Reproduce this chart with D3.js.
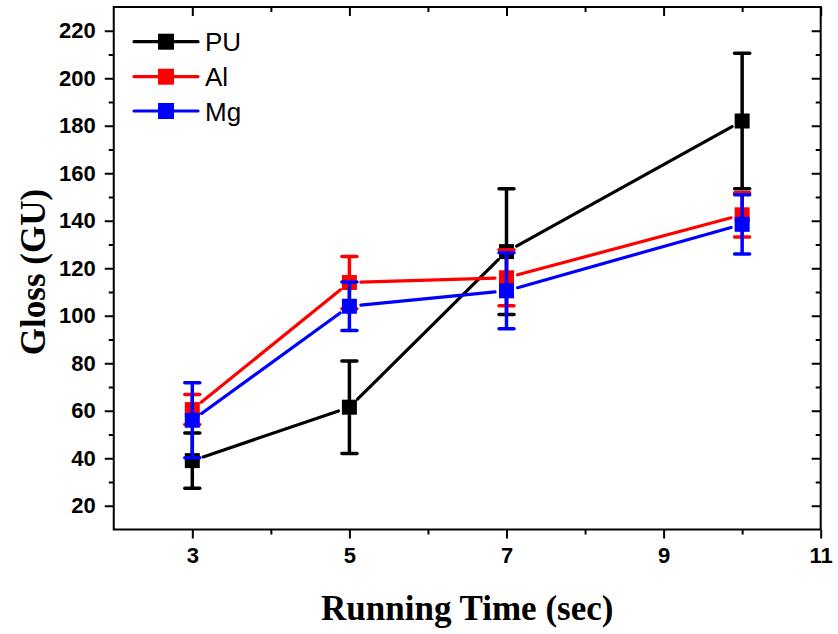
<!DOCTYPE html>
<html>
<head>
<meta charset="utf-8">
<script src="https://cdn.jsdelivr.net/npm/d3@7"></script>
<style>
  html, body { margin: 0; padding: 0; background: #fff; }
  svg { display: block; }
</style>
</head>
<body>
<svg id="chart" width="838" height="634"></svg>
<script>
// Running time (s) at which gloss was measured
const runningTime = [3, 5, 7, 10];

// Mean gloss (GU) and standard deviation per coating
const seriesNames = ["PU", "Al", "Mg"];
const seriesColors = ["#000000", "#ff0000", "#0000ff"];
const glossPU = [39, 61.5, 127, 182];
const errPU   = [11.6, 19.5, 26.5, 28.5];
const glossAl = [60.5, 114, 116, 142.5];
const errAl   = [6.3, 11, 11.8, 9.3];
const glossMg = [56, 104, 110.5, 138.5];
const errMg   = [15.8, 10.2, 16, 12.5];

// Axis ticks
const xTicks = [3, 5, 7, 9, 11];
const xMinorTicks = [4, 6, 8, 10];
const yTicks = [20, 40, 60, 80, 100, 120, 140, 160, 180, 200, 220];
const yMinorTicks = [30, 50, 70, 90, 110, 130, 150, 170, 190, 210];

const series = seriesNames.map((name, i) => ({
  name,
  color: seriesColors[i],
  values: [glossPU, glossAl, glossMg][i],
  errors: [errPU, errAl, errMg][i]
}));

const svg = d3.select("#chart");
const plotLeft = 113.75, plotRight = 820.7, plotTop = 7, plotBottom = 529.5;

const x = d3.scaleLinear().domain([2, 11]).range([plotLeft, plotRight]);
const y = d3.scaleLinear().domain([10, 230]).range([plotBottom, plotTop]);

const tickFont = "bold 22px 'Liberation Sans', Arial, sans-serif";

// Frame
svg.append("rect")
  .attr("x", plotLeft).attr("y", plotTop)
  .attr("width", plotRight - plotLeft).attr("height", plotBottom - plotTop)
  .attr("fill", "none").attr("stroke", "#000").attr("stroke-width", 2);

function styleAxis(g) {
  g.select(".domain").remove();
  g.selectAll(".tick line").attr("stroke", "#000").attr("stroke-width", 2);
  g.selectAll(".tick text").style("font", tickFont).attr("fill", "#000");
}

// Bottom axis: major ticks with labels, minor ticks without
svg.append("g").attr("transform", `translate(0,${plotBottom})`)
  .call(d3.axisBottom(x).tickValues(xTicks).tickFormat(d3.format("d")).tickSize(9).tickPadding(9))
  .call(styleAxis);
svg.append("g").attr("transform", `translate(0,${plotBottom})`)
  .call(d3.axisBottom(x).tickValues(xMinorTicks).tickFormat("").tickSize(5))
  .call(styleAxis);

// Left axis
svg.append("g").attr("transform", `translate(${plotLeft},0)`)
  .call(d3.axisLeft(y).tickValues(yTicks).tickFormat(d3.format("d")).tickSize(9).tickPadding(9))
  .call(styleAxis);
svg.append("g").attr("transform", `translate(${plotLeft},0)`)
  .call(d3.axisLeft(y).tickValues(yMinorTicks).tickFormat("").tickSize(5))
  .call(styleAxis);

// Mirrored inward ticks on top and right edges
svg.append("g").attr("transform", `translate(0,${plotTop})`)
  .call(d3.axisBottom(x).tickValues(xTicks).tickFormat("").tickSize(9))
  .call(styleAxis);
svg.append("g").attr("transform", `translate(0,${plotTop})`)
  .call(d3.axisBottom(x).tickValues(xMinorTicks).tickFormat("").tickSize(5))
  .call(styleAxis);
svg.append("g").attr("transform", `translate(${plotRight},0)`)
  .call(d3.axisLeft(y).tickValues(yTicks).tickFormat("").tickSize(9))
  .call(styleAxis);
svg.append("g").attr("transform", `translate(${plotRight},0)`)
  .call(d3.axisLeft(y).tickValues(yMinorTicks).tickFormat("").tickSize(5))
  .call(styleAxis);

// Axis titles
svg.append("text")
  .attr("x", (plotLeft + plotRight) / 2).attr("y", 620)
  .attr("text-anchor", "middle")
  .style("font", "bold 35px 'Liberation Serif', 'Times New Roman', serif")
  .text("Running Time (sec)");
svg.append("text")
  .attr("transform", "translate(45,272) rotate(-90)")
  .attr("text-anchor", "middle")
  .style("font", "bold 35px 'Liberation Serif', 'Times New Roman', serif")
  .text("Gloss (GU)");

const markerSize = 15;
const gap = 11.5; // line segments stop short of the symbols
const capW = 15;

series.forEach(s => {
  const g = svg.append("g");
  const pts = runningTime.map((t, i) => [x(t), y(s.values[i])]);

  // Connecting segments, trimmed around each symbol
  for (let i = 0; i < pts.length - 1; i++) {
    const [x1, y1] = pts[i], [x2, y2] = pts[i + 1];
    const len = Math.hypot(x2 - x1, y2 - y1);
    const ux = (x2 - x1) / len, uy = (y2 - y1) / len;
    g.append("line")
      .attr("x1", x1 + ux * gap).attr("y1", y1 + uy * gap)
      .attr("x2", x2 - ux * gap).attr("y2", y2 - uy * gap)
      .attr("stroke", s.color).attr("stroke-width", 3.2)
      .attr("stroke-linecap", "round");
  }

  // Symbols
  g.selectAll("rect.marker").data(runningTime).join("rect")
    .attr("class", "marker")
    .attr("x", d => x(d) - markerSize / 2)
    .attr("y", (d, i) => y(s.values[i]) - markerSize / 2)
    .attr("width", markerSize).attr("height", markerSize)
    .attr("fill", s.color);

  // Error bars
  runningTime.forEach((t, i) => {
    const cx = x(t);
    const yHi = y(s.values[i] + s.errors[i]);
    const yLo = y(s.values[i] - s.errors[i]);
    g.append("line")
      .attr("x1", cx).attr("x2", cx).attr("y1", yHi).attr("y2", yLo)
      .attr("stroke", s.color).attr("stroke-width", 3.5);
    [yHi, yLo].forEach(yy => {
      g.append("line")
        .attr("x1", cx - capW / 2).attr("x2", cx + capW / 2)
        .attr("y1", yy).attr("y2", yy)
        .attr("stroke", s.color).attr("stroke-width", 3.5)
        .attr("stroke-linecap", "round");
    });
  });
});

// Legend
const legend = svg.append("g");
const legendRows = [41.7, 76.7, 111];
series.forEach((s, i) => {
  const ly = legendRows[i];
  legend.append("line")
    .attr("x1", 134).attr("x2", 198).attr("y1", ly).attr("y2", ly)
    .attr("stroke", s.color).attr("stroke-width", 3.2).attr("stroke-linecap", "round");
  legend.append("rect")
    .attr("x", 166 - 8).attr("y", ly - 8).attr("width", 16).attr("height", 16)
    .attr("fill", s.color);
  legend.append("text")
    .attr("x", 205).attr("y", ly + 9.5)
    .style("font", "26px 'Liberation Sans', Arial, sans-serif")
    .text(s.name);
});
</script>
</body>
</html>
